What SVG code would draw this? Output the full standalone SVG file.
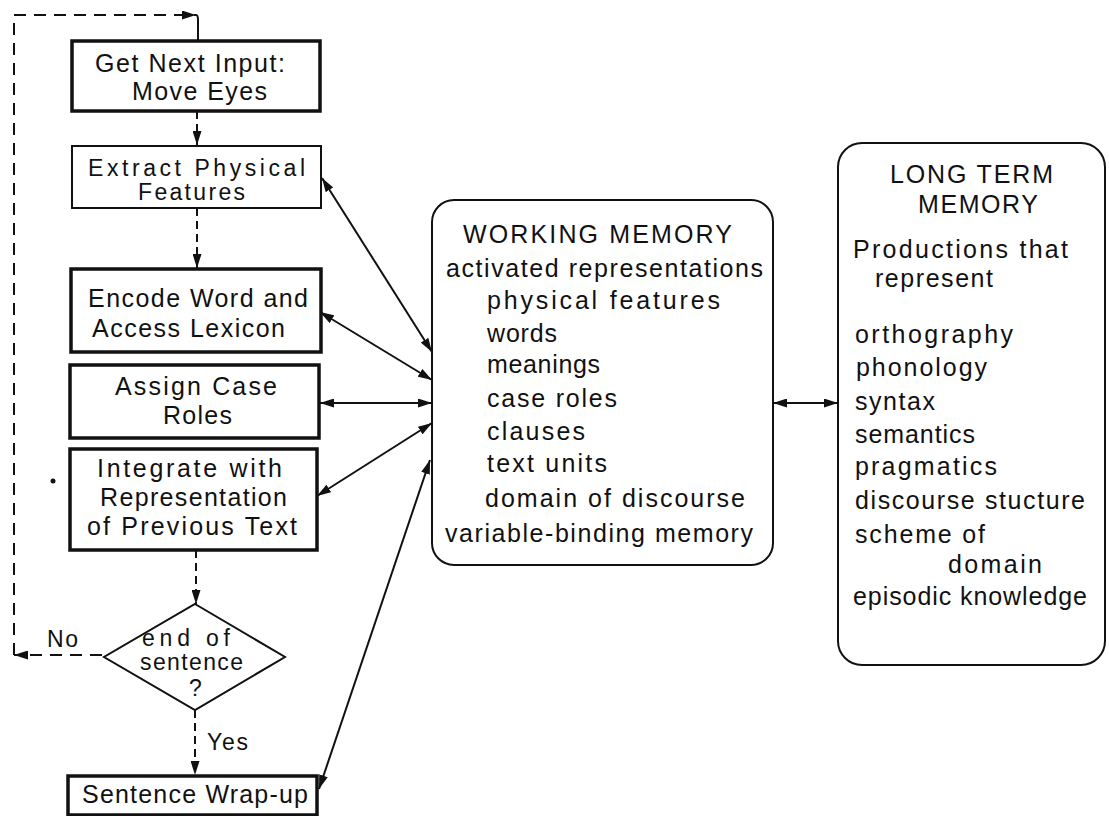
<svg xmlns="http://www.w3.org/2000/svg" width="1109" height="816" viewBox="0 0 1109 816">
<style>
text{font-family:"Liberation Sans",Arial,sans-serif;font-size:25px;fill:#111}
.sm{font-size:23px}
.thick{fill:#fff;stroke:#111;stroke-width:3.5}
.thin{fill:#fff;stroke:#111;stroke-width:2}
.mem{fill:#fff;stroke:#111;stroke-width:2}
.dash{fill:none;stroke:#111;stroke-width:2;stroke-dasharray:8 5}
.loop{fill:none;stroke:#111;stroke-width:2;stroke-dasharray:12 8}
.sol{fill:none;stroke:#111;stroke-width:2}
</style>
<defs>
<marker id="ah" viewBox="0 0 14 9" refX="14" refY="4.5" markerWidth="14" markerHeight="9" markerUnits="userSpaceOnUse" orient="auto-start-reverse"><path d="M0,0 L14,4.5 L0,9 z" fill="#111"/></marker>
</defs>

<g id="connectors">
<path class="loop" d="M102,655 L14,655" marker-end="url(#ah)"/>
<path class="loop" d="M14,655 L14,15 L196,15" marker-end="url(#ah)"/>
<path class="sol" d="M196,15 Q198,15 198,20 L198,40"/>
<path class="dash" d="M197,111 L197,145" marker-end="url(#ah)"/>
<path class="dash" d="M197,208 L197,268" marker-end="url(#ah)"/>
<path class="dash" d="M196,550 L196,604" marker-end="url(#ah)"/>
<path class="dash" d="M195,710 L195,775" marker-end="url(#ah)"/>
<path class="sol" d="M322,178 L432,352" marker-start="url(#ah)" marker-end="url(#ah)"/>
<path class="sol" d="M320,312 L432,380" marker-start="url(#ah)" marker-end="url(#ah)"/>
<path class="sol" d="M320,403 L432,403" marker-start="url(#ah)" marker-end="url(#ah)"/>
<path class="sol" d="M317,496 L432,423" marker-start="url(#ah)" marker-end="url(#ah)"/>
<path class="sol" d="M319,789 L430,460" marker-start="url(#ah)" marker-end="url(#ah)"/>
<path class="sol" d="M773,403 L838,403" marker-start="url(#ah)" marker-end="url(#ah)"/>
<text x="47" y="647" class="sm" textLength="31" lengthAdjust="spacing">No</text>
<text x="207" y="750" class="sm" textLength="41" lengthAdjust="spacing">Yes</text>
<circle cx="53" cy="481" r="2.5" fill="#111"/>
</g>

<g id="get-next-input">
<rect class="thick" x="72" y="41" width="248" height="70"/>
<text x="95" y="72" textLength="190" lengthAdjust="spacing">Get Next Input:</text>
<text x="132" y="100" textLength="135" lengthAdjust="spacing">Move Eyes</text>
</g>

<g id="extract-features">
<rect class="thin" x="72" y="146" width="249" height="62"/>
<text x="88" y="176" class="sm" textLength="217" lengthAdjust="spacing">Extract Physical</text>
<text x="138" y="200" class="sm" textLength="107" lengthAdjust="spacing">Features</text>
</g>

<g id="encode-word">
<rect class="thick" x="71" y="269" width="250" height="83"/>
<text x="88" y="307" textLength="220" lengthAdjust="spacing">Encode Word and</text>
<text x="92" y="337" textLength="193" lengthAdjust="spacing">Access Lexicon</text>
</g>

<g id="assign-case">
<rect class="thick" x="70" y="365" width="249" height="73"/>
<text x="115" y="395" textLength="162" lengthAdjust="spacing">Assign Case</text>
<text x="163" y="424" textLength="69" lengthAdjust="spacing">Roles</text>
</g>

<g id="integrate">
<rect class="thick" x="70" y="449" width="247" height="101"/>
<text x="97" y="477" textLength="185" lengthAdjust="spacing">Integrate with</text>
<text x="100" y="506" textLength="187" lengthAdjust="spacing">Representation</text>
<text x="87" y="535" textLength="210" lengthAdjust="spacing">of Previous Text</text>
</g>

<g id="end-of-sentence">
<polygon class="thin" points="195,604 285,657 195,710 104,657"/>
<text x="142" y="646" class="sm" textLength="88" lengthAdjust="spacing">end of</text>
<text x="140" y="670" class="sm" textLength="103" lengthAdjust="spacing">sentence</text>
<text x="189" y="696" class="sm">?</text>
</g>

<g id="sentence-wrap-up">
<rect class="thick" x="68" y="776" width="249" height="39"/>
<text x="82" y="803" textLength="226" lengthAdjust="spacing">Sentence Wrap-up</text>
</g>

<g id="working-memory">
<rect class="mem" x="432" y="200" width="341" height="365" rx="22"/>
<text x="463" y="243" textLength="269" lengthAdjust="spacing">WORKING MEMORY</text>
<text x="446" y="277" textLength="317" lengthAdjust="spacing">activated representations</text>
<text x="487" y="309" textLength="233" lengthAdjust="spacing">physical features</text>
<text x="487" y="342" textLength="70" lengthAdjust="spacing">words</text>
<text x="487" y="373" textLength="113" lengthAdjust="spacing">meanings</text>
<text x="487" y="407" textLength="130" lengthAdjust="spacing">case roles</text>
<text x="487" y="440" textLength="98" lengthAdjust="spacing">clauses</text>
<text x="487" y="472" textLength="120" lengthAdjust="spacing">text units</text>
<text x="485" y="507" textLength="260" lengthAdjust="spacing">domain of discourse</text>
<text x="445" y="542" textLength="308" lengthAdjust="spacing">variable-binding memory</text>
</g>

<g id="long-term-memory">
<rect class="mem" x="838" y="143" width="267" height="522" rx="24"/>
<text x="890" y="183" textLength="163" lengthAdjust="spacing">LONG TERM</text>
<text x="918" y="213" textLength="120" lengthAdjust="spacing">MEMORY</text>
<text x="853" y="258" textLength="215" lengthAdjust="spacing">Productions that</text>
<text x="875" y="287" textLength="118" lengthAdjust="spacing">represent</text>
<text x="855" y="343" textLength="158" lengthAdjust="spacing">orthography</text>
<text x="856" y="376" textLength="131" lengthAdjust="spacing">phonology</text>
<text x="855" y="410" textLength="80" lengthAdjust="spacing">syntax</text>
<text x="855" y="443" textLength="120" lengthAdjust="spacing">semantics</text>
<text x="855" y="475" textLength="142" lengthAdjust="spacing">pragmatics</text>
<text x="855" y="509" textLength="230" lengthAdjust="spacing">discourse stucture</text>
<text x="855" y="543" textLength="130" lengthAdjust="spacing">scheme of</text>
<text x="948" y="573" textLength="94" lengthAdjust="spacing">domain</text>
<text x="853" y="605" textLength="234" lengthAdjust="spacing">episodic knowledge</text>
</g>
</svg>
